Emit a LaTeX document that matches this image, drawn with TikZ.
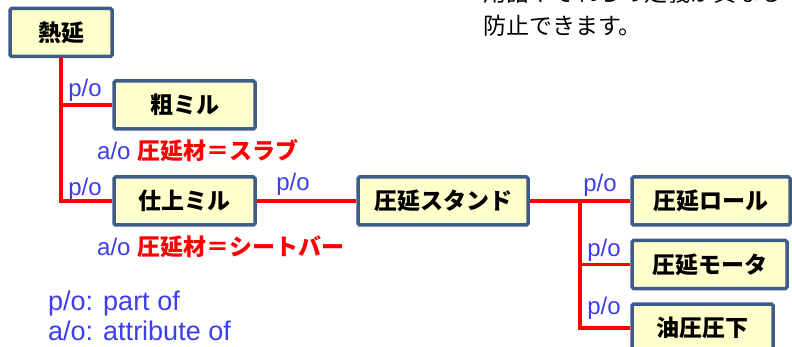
\documentclass[tikz,border=0pt]{standalone}
\usepackage{fontspec}
\setmainfont{Liberation Sans}
\newfontfamily\jp{Noto Sans CJK JP}
\definecolor{boxline}{RGB}{62,92,135}
\definecolor{boxfill}{RGB}{255,255,204}
\definecolor{poblue}{RGB}{60,60,240}
\definecolor{linkred}{RGB}{255,0,0}
\tikzset{
  part/.style={draw=boxline, fill=boxfill, line width=3.5pt, rounded corners=1.5pt,
    minimum height=48pt, inner sep=0pt, font=\jp\bfseries\fontsize{23}{26}\selectfont},
  link/.style={draw=linkred, line width=3.2pt},
  po/.style={text=poblue, inner sep=0pt, font=\fontsize{24}{26}\selectfont},
  ao/.style={inner sep=0pt, anchor=west, font=\fontsize{24}{26}\selectfont},
}
\begin{document}
\begin{tikzpicture}[x=1pt, y=-1pt]
\useasboundingbox (0,0) rectangle (792,347);
\node[part, minimum width=102pt] (hot) at (61,32.5) {熱延};
\node[part, minimum width=141pt] (rough) at (184.5,105) {粗ミル};
\node[part, minimum width=141pt] (finish) at (184.5,201) {仕上ミル};
\node[part, minimum width=170pt] (stand) at (443,201) {圧延スタンド};
\node[part, minimum width=158pt] (roll) at (711,201) {圧延ロール};
\node[part, minimum width=155pt] (motor) at (709.5,264.5) {圧延モータ};
\node[part, minimum width=141pt] (oil) at (702.5,328) {油圧圧下};
% hot -> rough / finish
\draw[link] (hot.south) |- (finish.west);
\draw[link] (hot.south |- rough.west) -- (rough.west);
\node[po] (P_rough) at (85,90) {p/o};
\node[po] (P_finish) at (85,189) {p/o};
% finish -> stand
\draw[link] (finish.east) -- (stand.west);
\node[po] (P_stand) at (293,184) {p/o};
% stand -> roll / motor / oil
\coordinate (fork) at (580,201);
\draw[link] (stand.east) -- (roll.west);
\draw[link] (fork) |- (oil.west);
\draw[link] (fork |- motor.west) -- (motor.west);
\node[po] (P_roll) at (600,185) {p/o};
\node[po] (P_motor) at (604,250) {p/o};
\node[po] (P_oil) at (604,308) {p/o};
% attributes
\node[ao] (A_rough) at (97,151) {\textcolor{poblue}{a/o} {\jp\bfseries\color{linkred}\fontsize{23}{26}\selectfont 圧延材＝スラブ}};
\node[ao] (A_finish) at (97,247) {\textcolor{poblue}{a/o} {\jp\bfseries\color{linkred}\fontsize{23}{26}\selectfont 圧延材＝シートバー}};
% legend
\node[anchor=west, text=poblue, inner sep=0pt, font=\fontsize{27}{30}\selectfont, align=left] (legend) at (48,316)
  {p/o: part of\\a/o: attribute of};
% note
\node[anchor=west, inner sep=0pt, font=\jp\fontsize{23}{33}\selectfont, align=left] (note) at (483,9)
  {用語やそれらの定義が異なる\\防止できます。};
\end{tikzpicture}
\end{document}
